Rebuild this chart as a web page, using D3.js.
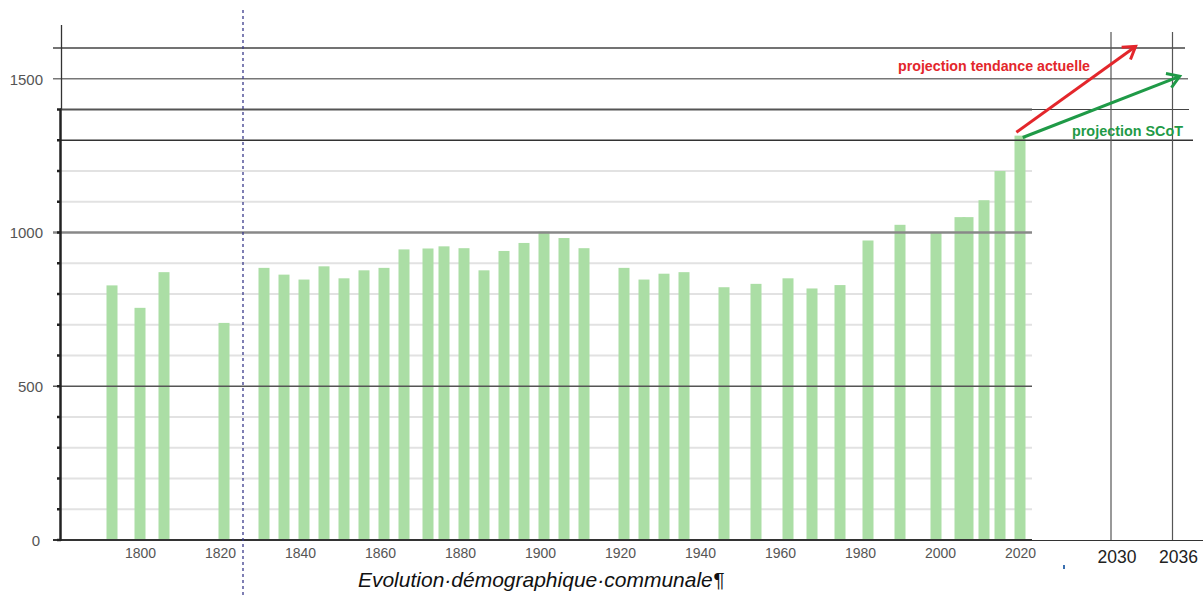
<!DOCTYPE html>
<html>
<head>
<meta charset="utf-8">
<script src="https://cdn.jsdelivr.net/npm/d3@7"></script>
<style>
  html, body { margin: 0; padding: 0; background: #fff; }
  svg { display: block; font-family: "Liberation Sans", Arial, sans-serif; }
</style>
</head>
<body>
<svg id="chart" width="1203" height="596"></svg>
<script>
// ---- data ----
const years = [1793,1800,1806,1821,1831,1836,1841,1846,1851,1856,1861,1866,1872,1876,1881,1886,1891,1896,1901,1906,1911,1921,1926,1931,1936,1946,1954,1962,1968,1975,1982,1990,1999,2005,2007,2011,2015,2020];
const population = [828,755,871,706,885,863,847,890,851,877,885,945,948,955,949,877,940,966,1003,982,949,885,847,866,871,822,833,851,818,829,974,1025,999,1050,1050,1105,1200,1315];
const xTickYears = [1800,1820,1840,1860,1880,1900,1920,1940,1960,1980,2000,2020];
const yTickLabels = [0,500,1000,1500];
const projTickYears = [2030,2036];
const projNames = ["projection tendance actuelle","projection SCoT"];
const projStartYear = [2019.6, 2020.3];
const projStartValue = [1326, 1309];
const projEndYear = [2032.4, 2036.7];
const projEndValue = [1605, 1508];
const separatorYear = 1825.75;
const title = "Evolution·démographique·communale¶";

// ---- scales ----
const x = d3.scaleLinear().domain([1800, 2020]).range([140, 1020]);
const xp = d3.scaleLinear().domain([2020, 2030, 2036]).range([1020, 1111, 1172.5]);
const y = d3.scaleLinear().domain([0, 1000]).range([540, 232.5]);

const svg = d3.select("#chart");

// ---- light grid lines ----
const lightGrid = [100,200,300,400,600,700,800,900,1100,1200];
svg.append("g").selectAll("line").data(lightGrid).join("line")
  .attr("x1", 61).attr("x2", 1032)
  .attr("y1", d => y(d)).attr("y2", d => y(d))
  .attr("stroke", "#e2e2e2").attr("stroke-width", 2);

// ---- bars ----
const barW = 11;
svg.append("g").selectAll("rect").data(years).join("rect")
  .attr("x", d => x(d) - barW / 2)
  .attr("width", barW)
  .attr("y", (d, i) => y(population[i]))
  .attr("height", (d, i) => y(0) - y(population[i]))
  .attr("fill", "#abdea5");

// ---- major horizontal lines ----
const major = [
  {v: 500,  x1: 53, x2: 1032, c: "#555", w: 1.6},
  {v: 1000, x1: 53, x2: 1032, c: "#888", w: 2.4},
  {v: 1300, x1: 60, x2: 1193, c: "#333", w: 1.5},
  {v: 1400, x1: 60, x2: 1032, c: "#555", w: 2},
  {v: 1400, x1: 1032, x2: 1189, c: "#444", w: 1.2},
  {v: 1500, x1: 53, x2: 1188, c: "#777", w: 1.6},
  {v: 1600, x1: 53, x2: 1185, c: "#444", w: 1.4}
];
svg.append("g").selectAll("line").data(major).join("line")
  .attr("x1", d => d.x1).attr("x2", d => d.x2)
  .attr("y1", d => y(d.v)).attr("y2", d => y(d.v))
  .attr("stroke", d => d.c).attr("stroke-width", d => d.w);

// ---- projection vertical lines ----
svg.append("g").selectAll("line").data(projTickYears).join("line")
  .attr("x1", d => xp(d)).attr("x2", d => xp(d))
  .attr("y1", 32).attr("y2", y(0))
  .attr("stroke", "#555").attr("stroke-width", 1.2);

// ---- x axis baseline ----
svg.append("line").attr("x1", 53).attr("x2", 1032)
  .attr("y1", y(0)).attr("y2", y(0)).attr("stroke", "#333").attr("stroke-width", 2);
svg.append("line").attr("x1", 1032).attr("x2", 1203)
  .attr("y1", y(0) + 0.5).attr("y2", y(0) + 0.5).attr("stroke", "#333").attr("stroke-width", 1.2);

// ---- left axis ----
svg.append("line").attr("x1", 60.5).attr("x2", 60.5)
  .attr("y1", y(1400)).attr("y2", y(0) + 1).attr("stroke", "#222").attr("stroke-width", 2.5);
svg.append("line").attr("x1", 61.5).attr("x2", 61.5)
  .attr("y1", 25).attr("y2", y(1400)).attr("stroke", "#333").attr("stroke-width", 1.3);
svg.append("g").selectAll("line").data(d3.range(0, 1401, 100)).join("line")
  .attr("x1", 57).attr("x2", 61)
  .attr("y1", d => y(d)).attr("y2", d => y(d))
  .attr("stroke", "#222").attr("stroke-width", 2.5);

// ---- y labels ----
const yAxis = d3.axisLeft(y).tickValues(yTickLabels).tickSize(0).tickPadding(0).tickFormat(d3.format("d"));
const gy = svg.append("g").attr("transform", "translate(43,0)").call(yAxis);
gy.select(".domain").remove();
gy.selectAll("text").attr("font-size", 15).attr("fill", "#555")
  .attr("font-family", "Liberation Sans, Arial, sans-serif")
  .attr("dy", "0.35em")
  .attr("x", d => d === 0 ? -3 : 0);

// ---- x labels ----
const xAxis = d3.axisBottom(x).tickValues(xTickYears).tickSize(0).tickFormat(d3.format("d"));
const gx = svg.append("g").attr("transform", `translate(0,${y(0)})`).call(xAxis);
gx.select(".domain").remove();
gx.selectAll("text").attr("font-size", 14).attr("fill", "#555")
  .attr("font-family", "Liberation Sans, Arial, sans-serif")
  .attr("y", 18).attr("dy", 0);

// ---- projection year labels ----
svg.append("g").selectAll("text").data(projTickYears).join("text")
  .attr("x", d => xp(d) + 6).attr("y", 563)
  .attr("text-anchor", "middle").attr("font-size", 17.5).attr("fill", "#222")
  .text(d => d);

// ---- separator dotted line ----
svg.append("line").attr("x1", x(separatorYear)).attr("x2", x(separatorYear))
  .attr("y1", 10).attr("y2", 596)
  .attr("stroke", "#3b3b8c").attr("stroke-width", 1.3).attr("stroke-dasharray", "3,3");

// ---- stray mark ----
svg.append("rect").attr("x", 1063).attr("y", 565).attr("width", 2).attr("height", 4).attr("fill", "#3a6fb0");

// ---- projection arrows ----
const projColors = ["#e3262b", "#1f9a47"];
const arrows = svg.append("g");
projNames.forEach((name, i) => {
  const x0 = xp(projStartYear[i]), y0 = y(projStartValue[i]);
  const x1 = xp(projEndYear[i]), y1 = y(projEndValue[i]);
  const ang = Math.atan2(y1 - y0, x1 - x0);
  const L = 14, a = Math.PI / 5.5;
  arrows.append("line").attr("x1", x0).attr("y1", y0).attr("x2", x1).attr("y2", y1)
    .attr("stroke", projColors[i]).attr("stroke-width", 3);
  arrows.append("path")
    .attr("d", `M${x1 - L * Math.cos(ang - a)},${y1 - L * Math.sin(ang - a)} L${x1},${y1} L${x1 - L * Math.cos(ang + a)},${y1 - L * Math.sin(ang + a)}`)
    .attr("fill", "none").attr("stroke", projColors[i]).attr("stroke-width", 3)
    .attr("stroke-linejoin", "miter");
});

// ---- projection labels ----
svg.append("text").attr("x", 898).attr("y", 71)
  .attr("font-size", 15).attr("font-weight", "bold").attr("fill", projColors[0])
  .attr("textLength", 192).attr("lengthAdjust", "spacingAndGlyphs").text(projNames[0]);
svg.append("text").attr("x", 1072).attr("y", 136)
  .attr("font-size", 15).attr("font-weight", "bold").attr("fill", projColors[1])
  .attr("textLength", 111).attr("lengthAdjust", "spacingAndGlyphs").text(projNames[1]);

// ---- title ----
svg.append("text").attr("x", 541).attr("y", 587)
  .attr("text-anchor", "middle").attr("font-size", 21).attr("font-style", "italic").attr("fill", "#111")
  .text(title);
</script>
</body>
</html>
